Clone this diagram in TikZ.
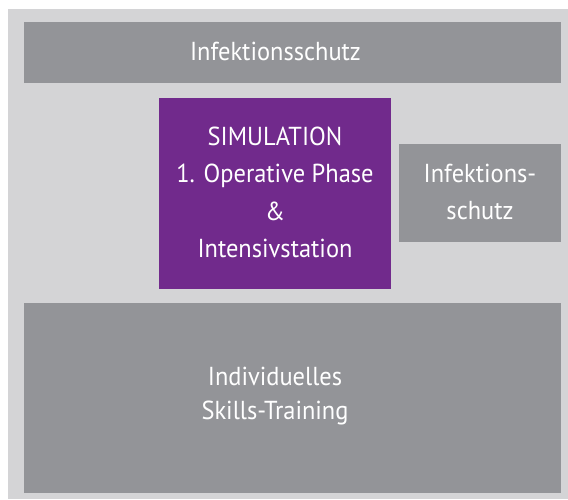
\documentclass[tikz,border=0pt]{standalone}
\usepackage{fontspec}
\setmainfont{PT Sans}[FakeStretch=0.94]
\definecolor{bglight}{HTML}{D4D4D6}
\definecolor{boxgray}{HTML}{939498}
\definecolor{simpurple}{HTML}{712A8C}
\begin{document}
\begin{tikzpicture}[x=1pt,y=-1pt,
  panel/.style={fill=boxgray,draw=none},
  label/.style={text=white,font=\fontsize{26}{37.5}\selectfont,align=center,inner sep=0pt}]
\useasboundingbox (0,0) rectangle (568,499);
\fill[bglight] (8,9) rectangle (568,499);
\fill[panel] (24,22) rectangle (561,83);
\node[label] (top) at (275.5,51) {Infektionsschutz};
\fill[simpurple] (159,98) rectangle (391,289);
\node[label] (sim) at (275,192.5) {SIMULATION\\1. Operative Phase\\\&\\Intensivstation};
\fill[panel] (399,144) rectangle (561,242);
\node[label] (right) at (480,192) {Infektions-\\schutz};
\fill[panel] (24,303) rectangle (561,493);
\node[label,font=\fontsize{26}{34}\selectfont] (bottom) at (275,396) {Individuelles\\Skills-Training};
\end{tikzpicture}
\end{document}
